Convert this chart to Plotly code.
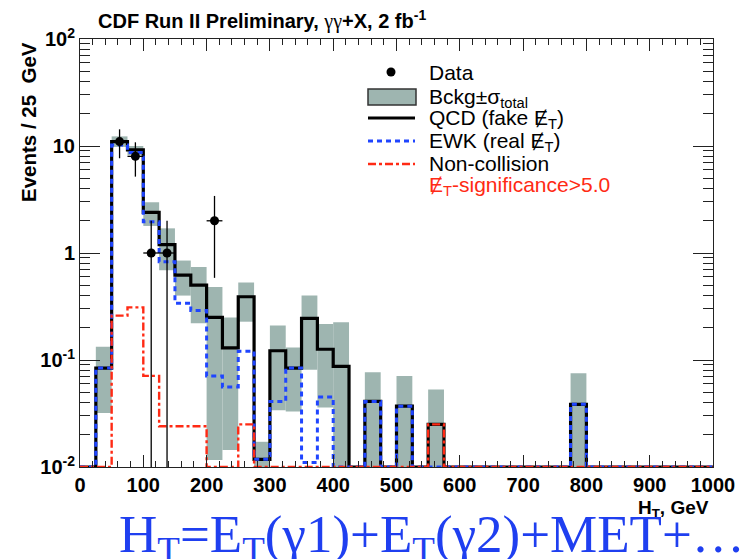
import plotly.graph_objects as go

# ---------------- data ----------------
bin_width = 25
bin_edges = [bin_width * i for i in range(41)]          # 0 ... 1000 GeV
bin_centers = [e + bin_width / 2 for e in bin_edges[:-1]]

qcd = [0, 0.084, 11.0, 9.2, 2.4, 1.2, 0.62, 0.50, 0.25, 0.13,
       0.39, 0.0118, 0.122, 0.084, 0.245, 0.126, 0.087, 0, 0.041, 0,
       0.037, 0, 0.025, 0, 0, 0, 0, 0, 0, 0,
       0, 0.0385, 0, 0, 0, 0, 0, 0, 0, 0]
ewk = [0, 0.084, 10.2, 8.7, 1.96, 0.83, 0.34, 0.29, 0.071, 0.056,
       0.121, 0.0118, 0.041, 0.084, 0.011, 0.045, 0, 0, 0.041, 0,
       0.037, 0, 0, 0, 0, 0, 0, 0, 0, 0,
       0, 0.0385, 0, 0, 0, 0, 0, 0, 0, 0]
noncoll = [0, 0, 0.26, 0.31, 0.071, 0.024, 0.024, 0.024, 0, 0,
           0.025, 0, 0, 0, 0, 0, 0, 0, 0, 0,
           0, 0, 0.025, 0, 0, 0, 0, 0, 0, 0,
           0, 0, 0, 0, 0, 0, 0, 0, 0, 0]
band_low = [None, 0.032, 9.8, 8.2, 1.79, 0.69, 0.40, 0.22, 0.0116, 0.0144,
            0.228, 0, 0.034, 0.033, 0.081, 0.036, 0, None, 0, None,
            0, None, 0, None, None, None, None, None, None, None,
            None, 0, None, None, None, None, None, None, None, None]
band_high = [None, 0.133, 12.3, 10.0, 2.98, 1.70, 0.85, 0.74, 0.48, 0.25,
             0.53, 0.0172, 0.21, 0.131, 0.40, 0.217, 0.225, None, 0.077, None,
             0.071, None, 0.053, None, None, None, None, None, None, None,
             None, 0.075, None, None, None, None, None, None, None, None]

data_x = [62.5, 87.5, 112.5, 137.5, 212.5]
data_n = [11, 8, 1, 1, 2]

x_tick_vals = list(range(0, 1001, 100))
y_tick_vals = [0.01, 0.1, 1, 10, 100]
y_tick_text = ["10<sup>-2</sup>", "10<sup>-1</sup>", "1", "10", "10<sup>2</sup>"]

# ---------------- styling ----------------
W, H = 744, 551                     # page body adds 8px margin
PL, PR, PT, PB = 72, 705, 31, 459   # plot area in figure pixels
FLOOR = 0.01
SANS = "Liberation Sans, Arial, sans-serif"
SERIF = "Liberation Serif, Times New Roman, serif"
GRAY = "#9eb5b0"
BLUE = "#1f45ff"
RED = "#ff2a14"
MET = "\u0246"
BLUE_DASH = "5px,4px"
RED_DASH = "8px,3px,3px,3px"


def px_x(px):
    return (px - PL) / (PR - PL)


def px_y(py):
    return (PB - py) / (PB - PT)


def step_xy(values):
    ys = [max(v, FLOOR) for v in values]
    return bin_edges, ys + [ys[-1]]


fig = go.Figure()

# uncertainty band
bx, bbase, bh = [], [], []
for c, lo, hi in zip(bin_centers, band_low, band_high):
    if hi is None:
        continue
    lo_d = max(lo, 10 ** -2.2)
    bx.append(c)
    bbase.append(lo_d)
    bh.append(hi - lo_d)
fig.add_trace(go.Bar(x=bx, y=bh, base=bbase, width=bin_width,
                     marker=dict(color=GRAY, line=dict(width=0)),
                     name="Bckg\u00b1\u03c3 total", hoverinfo="skip"))

sx, sy = step_xy(qcd)
fig.add_trace(go.Scatter(x=sx, y=sy, mode="lines", line_shape="hv",
                         line=dict(color="black", width=3.2), name="QCD"))
sx, sy = step_xy(ewk)
fig.add_trace(go.Scatter(x=sx, y=sy, mode="lines", line_shape="hv",
                         line=dict(color=BLUE, width=3, dash=BLUE_DASH), name="EWK"))
sx, sy = step_xy(noncoll)
fig.add_trace(go.Scatter(x=sx, y=sy, mode="lines", line_shape="hv",
                         line=dict(color=RED, width=2.4, dash=RED_DASH),
                         name="Non-collision"))

err = [n ** 0.5 for n in data_n]
fig.add_trace(go.Scatter(x=data_x, y=data_n, mode="markers",
                         marker=dict(color="black", size=9),
                         error_y=dict(type="data", array=err, color="black",
                                      thickness=1.3, width=0),
                         error_x=dict(type="constant", value=bin_width / 2,
                                      color="black", thickness=1.3, width=0),
                         name="Data"))

axis_common = dict(showline=True, linecolor="#222", linewidth=1, mirror="ticks",
                   ticks="inside", tickcolor="#222", showgrid=False, zeroline=False,
                   tickfont=dict(family=SANS, size=20, color="black", weight="bold"))

fig.update_xaxes(range=[0, 1000], tickvals=x_tick_vals, ticklen=12, tickwidth=1,
                 minor=dict(dtick=20, tick0=0, ticks="inside", ticklen=6,
                            tickcolor="#222", tickwidth=1),
                 **axis_common)
minor_y = [m * 10 ** d for d in range(-2, 2) for m in range(2, 10)]
fig.update_yaxes(type="log", range=[-2, 2], tickvals=y_tick_vals,
                 ticktext=y_tick_text, ticklen=20, tickwidth=1,
                 minor=dict(tickvals=minor_y, ticks="inside", ticklen=10,
                            tickcolor="#222", tickwidth=1),
                 **axis_common)

fig.update_layout(
    width=W, height=H,
    margin=dict(l=PL, r=W - PR, t=PT, b=H - PB, autoexpand=False),
    paper_bgcolor="white", plot_bgcolor="white",
    barmode="overlay",
    showlegend=False,
    title=dict(text="<b>CDF Run II Preliminary, </b>"
                    "<span style='font-family:Liberation Serif;font-weight:normal'>\u03b3\u03b3</span>"
                    "<b>+X, 2 fb<sup>-1</sup></b>",
               x=90 / W, xanchor="left", xref="container",
               y=1 - 13 / H, yanchor="middle",
               font=dict(family=SANS, size=20, color="black")),
)

# ---------------- legend (drawn) ----------------
LX0, LX1, TX = 360, 407, 419
fig.add_shape(type="circle", xref="paper", yref="paper",
              x0=px_x(383 - 4.5), x1=px_x(383 + 4.5), y0=px_y(64 + 4.5), y1=px_y(64 - 4.5),
              fillcolor="black", line=dict(color="black", width=0))
fig.add_shape(type="rect", xref="paper", yref="paper",
              x0=px_x(LX0), x1=px_x(LX1 + 1), y0=px_y(97), y1=px_y(81),
              fillcolor=GRAY, line=dict(color="#333", width=1.5))
fig.add_shape(type="line", xref="paper", yref="paper",
              x0=px_x(LX0), x1=px_x(LX1), y0=px_y(110), y1=px_y(110),
              line=dict(color="black", width=3.2))
fig.add_shape(type="line", xref="paper", yref="paper",
              x0=px_x(LX0), x1=px_x(LX1), y0=px_y(133), y1=px_y(133),
              line=dict(color=BLUE, width=3, dash=BLUE_DASH))
fig.add_shape(type="line", xref="paper", yref="paper",
              x0=px_x(LX0), x1=px_x(LX1), y0=px_y(156), y1=px_y(156),
              line=dict(color=RED, width=2.4, dash=RED_DASH))

legend_texts = [("Data", 64, "black"),
                ("Bckg\u00b1\u03c3<sub>total</sub>", 90, "black"),
                ("QCD (fake " + MET + "<sub>T</sub>)", 111, "black"),
                ("EWK (real " + MET + "<sub>T</sub>)", 134, "black"),
                ("Non-collision", 155, "black"),
                (MET + "<sub>T</sub>-significance>5.0", 178, RED)]
for txt, yc, col in legend_texts:
    fig.add_annotation(text=txt, xref="paper", yref="paper",
                       x=px_x(TX), y=px_y(yc), xanchor="left", yanchor="middle",
                       showarrow=False, font=dict(family=SANS, size=21, color=col))

# ---------------- axis titles and formula ----------------
fig.add_annotation(text="<b>Events / 25  GeV</b>", textangle=-90, xref="paper", yref="paper",
                   x=px_x(20), y=px_y(32), xanchor="center", yanchor="top",
                   showarrow=False, font=dict(family=SANS, size=20.5, color="black"))
fig.add_annotation(text="<b>H<sub>T</sub>, GeV</b>", xref="paper", yref="paper",
                   x=px_x(703), y=px_y(501), xanchor="right", yanchor="middle",
                   showarrow=False, font=dict(family=SANS, size=19, color="black"))
fig.add_annotation(text="H<sub>T</sub>=E<sub>T</sub>(\u03b31)+E<sub>T</sub>(\u03b32)+MET+\u2026",
                   xref="paper", yref="paper",
                   x=px_x(109), y=px_y(530), xanchor="left", yanchor="middle",
                   showarrow=False, font=dict(family=SERIF, size=53, color="#1f3ff0"))

fig.write_html("out.html")
